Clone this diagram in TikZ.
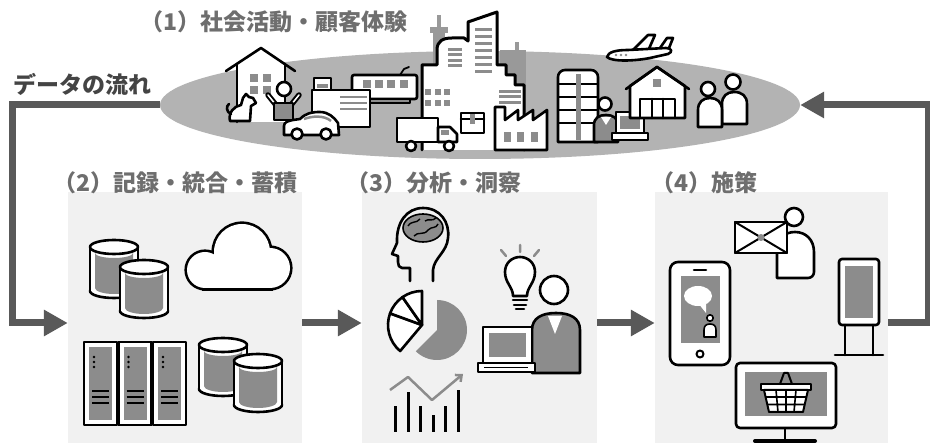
\documentclass[tikz,border=0pt]{standalone}
\usepackage{fontspec}
\newfontfamily\jp{Noto Sans CJK JP}
\usetikzlibrary{shapes.geometric,arrows.meta}
\definecolor{boxbg}{HTML}{F1F1F1}
\definecolor{icongray}{HTML}{8C8C8C}
\definecolor{towergray}{HTML}{999999}
\definecolor{scenegray}{HTML}{B3B3B3}
\definecolor{flowgray}{HTML}{595959}
\definecolor{labelgray}{HTML}{6E6E6E}
\definecolor{captiongray}{HTML}{444444}

% cylinder (database) icon, top-left corner at #1,#2
\newcommand{\dbcan}[2]{%
  \begin{scope}[shift={(#1,#2)}]
    \draw[wic] (24,52) ellipse [x radius=24, y radius=7];
    \fill[white] (0,8) rectangle (48,52);
    \draw[ic] (0,8) -- (0,52) (48,8) -- (48,52);
    \fill[icongray] (5,14) arc[start angle=180, end angle=0, x radius=19, y radius=5]
      -- (43,49) arc[start angle=0, end angle=180, x radius=19, y radius=6] -- cycle;
    \draw[wic] (24,8) ellipse [x radius=24, y radius=7];
  \end{scope}}

% the puffs of the cloud icon, used once for the outline and once for the fill
\newcommand{\cloudpuffs}[1]{%
  \path[#1] (205,270) circle (18);
  \path[#1] (242,252) circle (28);
  \path[#1] (270,268) circle (20);
  \path[#1] (205,260) rectangle (270,288);}

\begin{document}
\begin{tikzpicture}[x=1pt,y=-1pt,
  ic/.style={draw=black, line width=2.6pt, line join=round, line cap=round},
  wic/.style={ic, fill=white},
  gic/.style={ic, fill=icongray},
  stagebox/.style={fill=boxbg, draw=none, minimum width=234pt, minimum height=262pt, inner sep=0},
  lbl/.style={font=\jp\bfseries\fontsize{23}{23}\selectfont, text=labelgray, inner sep=0, anchor=west},
  flow/.style={draw=flowgray, line width=7pt, line join=miter},
  flowarrow/.style={flow, -{Triangle[length=24pt, width=25pt]}},
]
\useasboundingbox (0,0) rectangle (930,443);
\clip (0,0) rectangle (930,443);
\fill[white] (0,0) rectangle (930,443);

% ---------- stage boxes and titles ----------
\node[stagebox] (rec) at (185,323) {};
\node[stagebox, minimum width=235pt] (ana) at (479.5,323) {};
\node[stagebox, minimum width=233pt] (act) at (771.5,323) {};
\node[ellipse, fill=scenegray, minimum width=640pt, minimum height=108pt, inner sep=0] (scene) at (480,105) {};

\node[lbl] (t1) at (140,22) {（1）社会活動・顧客体験};
\node[lbl] (t2) at (53,183) {（2）記録・統合・蓄積};
\node[lbl] (t3) at (346,183) {（3）分析・洞察};
\node[lbl] (t4) at (651,183) {（4）施策};
\node[lbl, text=captiongray] (flowcap) at (13,84) {データの流れ};

% ---------- data flow connectors ----------
\coordinate (lc) at (12,105);
\coordinate (rc) at (928,323);
\draw[flowarrow] (scene.west) -- (lc) |- (rec.west);
\draw[flowarrow] (rec) -- (ana);
\draw[flowarrow] (ana) -- (act);
\draw[flowarrow] (act.east) -- (rc) |- (scene.east);

% ---------- (1) city scene ----------
% towers behind the skyline
\fill[towergray] (437,15) rectangle (441,28);
\fill[towergray] (430,27) rectangle (448,33);
\fill[towergray] (433,33) rectangle (445,70);
\fill[towergray] (500,50) rectangle (526,112);
\fill[towergray] (515,42) rectangle (519,51);
% skyline
\draw[wic, line width=3pt] (422,150) -- (422,65) -- (437,65) -- (437,50)
  .. controls (437,41) and (443,38) .. (452,38) -- (464,38) -- (468,41) -- (468,22)
  -- (497,12) -- (497,65) -- (506,65) -- (506,75) -- (515,75) -- (515,85) -- (524,85) -- (524,150);
\foreach \y in {48,53.5,59,64.5} \fill[icongray] (448,\y) rectangle (462,\y+3);
\foreach \y in {28,35,42,49,56,63,70} \fill[icongray] (475,\y) rectangle (492,\y+3.5);
\foreach \y in {90,95.5,101} \fill[icongray] (499,\y) rectangle (521,\y+3);
\foreach \x in {425,435,444} \foreach \y in {89,100} \fill[icongray] (\x,\y) rectangle (\x+5.5,\y+6);
% factory
\draw[wic] (495,150) -- (495,107) -- (505,107) -- (505,120) -- (518,110) -- (518,120) -- (533,110)
  -- (533,120) -- (547,110) -- (547,150) -- cycle;
\foreach \x in {504,517,531} \fill[icongray] (\x,132) rectangle (\x+7,142);
% train
\draw[wic, rounded corners=2] (352,75) rectangle (417,99);
\foreach \x in {363,375,387,400} \fill[icongray] (\x,80) rectangle (\x+8,88);
\draw[ic, line width=2pt, fill=icongray] (366,99) rectangle (410,103);
\draw[ic, line width=1.8pt] (400,75) -- (404,69) -- (409,67);
% shop block
\draw[wic] (312,90) rectangle (370,127);
\foreach \y in {97,103,109} \draw[icongray, line width=2.5pt] (340,\y) -- (367,\y);
\draw[wic] (314,78) rectangle (331,90);
\fill[icongray] (317,84) rectangle (328,88);
% truck
\draw[wic] (397,118) rectangle (438,142);
\draw[wic] (438,142) -- (438,127) -- (450,127) -- (457,134) -- (457,142) -- cycle;
\fill[icongray] (441,130) rectangle (449,135);
\draw[wic] (411,146) circle (5);
\draw[wic] (449,146) circle (5);
% parcel
\draw[wic] (461,113) rectangle (484,133);
\draw[ic] (461,119) -- (484,119);
\fill[icongray] (470,114) rectangle (475,124);
% car
\draw[wic] (284,135) -- (284,126) .. controls (284,122) and (288,121) .. (293,120) -- (300,119)
  .. controls (306,113) and (312,112) .. (320,112) .. controls (328,112) and (334,117) .. (338,123)
  -- (339,135) -- cycle;
\draw[icongray, line width=2.5pt] (304,119) .. controls (312,116) and (324,115) .. (331,121);
\draw[wic] (297,134) circle (5.5);
\draw[wic] (326,134) circle (5.5);
% house
\fill[white] (237,122) -- (237,64) -- (261,48) -- (285,64) -- (285,122) -- cycle;
\draw[ic] (226,71) -- (261,48) -- (295,71);
\draw[ic] (237,64) -- (237,122);
\draw[ic] (285,64) -- (285,104);
\foreach \x in {250,263} \foreach \y in {74,86} \fill[icongray] (\x,\y) rectangle (\x+8,\y+8);
% dog
\draw[wic] (230,121) .. controls (228,113) and (234,106) .. (241,105) -- (243,98) -- (246,94)
  -- (249,97) -- (253,98) -- (256,103) -- (251,106) -- (250,121) -- cycle;
\draw[ic] (231,114) .. controls (226,112) and (226,106) .. (229,104);
% cheering person
\draw[ic, line width=5.5pt] (276,105) -- (268,95);
\draw[ic, line width=5.5pt] (291,105) -- (299,95);
\draw[white, line width=1.5pt, line cap=round] (276,105) -- (268,95) (291,105) -- (299,95);
\draw[gic] (274,103) rectangle (293,120);
\draw[wic] (284,89) circle (7);

% right part of the scene: airplane
\draw[wic] (632,51) -- (648,35) -- (655,35) -- (648,51);
\draw[wic] (660,48) -- (667,38) -- (673,38) -- (669,48);
\draw[wic] (607,57) .. controls (608,52) and (616,50) .. (628,50) -- (666,48)
  .. controls (672,48) and (673,52) .. (668,54) -- (650,58) .. controls (635,61) and (612,62) .. cycle;
\foreach \x in {616,621,626} \fill[icongray] (\x,55) circle (1.3);
% office building
\draw[wic] (558,142) {[rounded corners=7] -- (558,70) -- (598,70)} -- (598,142) -- cycle;
\foreach \y in {84,97,110,123} \draw[ic, line width=2pt] (558,\y) -- (598,\y);
\fill[icongray] (576,74) rectangle (581,140);
% office worker with laptop
\draw[gic] (594,142) -- (594,125) .. controls (594,118) and (599,115) .. (606,115)
  .. controls (613,115) and (618,118) .. (618,125) -- (618,142) -- cycle;
\fill[white] (601,117) -- (606,125) -- (611,117) -- cycle;
\draw[wic] (605,104) circle (6.5);
\draw[wic] (616,112) rectangle (644,133);
\fill[icongray] (620,116) rectangle (640,129);
\draw[wic] (612,133) rectangle (648,140);
% warehouse
\draw[wic] (630,118) -- (630,86) -- (657,67) -- (685,86) -- (685,118) -- cycle;
\draw[ic] (626,89) -- (657,67) -- (689,89);
\fill[icongray] (653,79) rectangle (661,87);
\draw[ic] (640,118) -- (640,99) -- (675,99) -- (675,118);
\draw[ic] (652,99) -- (652,118) (663,99) -- (663,118);
% two people
\draw[wic] (722,124) -- (722,104) .. controls (722,96) and (727,92) .. (734,92)
  .. controls (742,92) and (747,96) .. (747,104) -- (747,124) -- cycle;
\draw[wic] (733,82) circle (7.5);
\draw[wic] (698,127) -- (698,110) .. controls (698,102) and (703,98) .. (710,98)
  .. controls (717,98) and (722,102) .. (722,110) -- (722,127) -- cycle;
\draw[wic] (708,89) circle (7);

% ---------- (2) storage ----------
\dbcan{90}{239}
\dbcan{120}{259}
\dbcan{199}{337}
\dbcan{234}{353}
% cloud
\cloudpuffs{draw=black, fill=black, line width=5.2pt}
\cloudpuffs{fill=white}
% server racks
\foreach \xo in {84,118.5,153} {
  \draw[wic] (\xo,342) rectangle (\xo+33,425);
  \fill[icongray] (\xo+5,347) rectangle (\xo+28,420);
  \foreach \y in {357,362,367} \fill (\xo+10,\y) circle (1.3);
  \foreach \y in {391,397,403} \draw[line width=2.6pt] (\xo+8,\y) -- (\xo+25,\y);
}

% ---------- (3) analysis ----------
% head with brain
\draw[ic] (410,281) -- (410,268) -- (402,268) .. controls (399,268) and (398,265) .. (398,262)
  -- (398,256) -- (392,254) -- (397,243) .. controls (396,222) and (407,208) .. (423,208)
  .. controls (440,208) and (450,222) .. (448,238) .. controls (447,252) and (434,258) .. (433,270)
  -- (433,281);
\draw[line width=1.6pt, fill=icongray] (423,228) ellipse [x radius=20, y radius=14];
\draw[line width=1.4pt] (408,226) .. controls (412,220) and (416,224) .. (420,219)
  (414,236) .. controls (418,231) and (424,236) .. (428,230) .. controls (432,226) and (436,229) .. (438,224)
  (425,221) .. controls (429,218) and (432,222) .. (436,218);
% pie chart
\fill[icongray] (437,330) -- ++(0,-30) arc[start angle=-90, end angle=135, radius=30] -- cycle;
\draw[wic] (422,325) -- ++(130:34) arc[start angle=130, end angle=200, radius=34] -- cycle;
\draw[wic] (422,325) -- ++(200:34) arc[start angle=200, end angle=235, radius=34] -- cycle;
\draw[wic] (422,325) -- ++(235:34) arc[start angle=235, end angle=270, radius=34] -- cycle;
% trend chart
\draw[icongray, line width=2.5pt, line join=round, -{Straight Barb[length=5pt, width=9pt]}]
  (390,390) -- (408,377) -- (432,400) -- (463,374);
\foreach \x/\t in {395/406, 408/392, 420/406, 433/415, 445/406, 458/390}
  \draw[line width=3pt] (\x,432) -- (\x,\t);
% light bulb
\draw[wic] (513,296) .. controls (513,287) and (505,283) .. (505,272) .. controls (505,263) and (512,257) .. (520,257)
  .. controls (528,257) and (535,263) .. (535,272) .. controls (535,283) and (527,287) .. (527,296) -- cycle;
\draw[ic] (513,300) -- (527,300) (514,305) -- (526,305) (516,309) -- (524,309);
\draw[icongray, line width=2.5pt, line cap=round] (501,250) -- (506,256) (520,245) -- (520,252) (539,250) -- (534,256);
% analyst with laptop
\draw[gic] (532,373) -- (532,330) .. controls (532,318) and (542,313) .. (556,313)
  .. controls (570,313) and (580,318) .. (580,330) -- (580,373) -- cycle;
\fill[white] (548,316) -- (555,334) -- (562,316) -- cycle;
\draw[wic] (554,290) circle (14);
\draw[wic] (483,327) rectangle (532,363);
\fill[icongray] (489,333) rectangle (526,357);
\draw[wic] (478,363) rectangle (535,372);
\draw[line width=1.5pt] (484,367.5) -- (528,367.5);

% ---------- (4) actions ----------
% person receiving mail
\draw[wic] (777,278) {[rounded corners=6] -- (777,250)} .. controls (777,239) and (785,232) .. (795,232)
  .. controls (806,232) and (814,240) .. (814,252) {[rounded corners=6] -- (814,278)} -- cycle;
\draw[wic] (794,217) circle (9);
\draw[wic] (735,222) rectangle (787,253);
\draw[ic, line width=2pt] (735,222) -- (787,253) (787,222) -- (735,253);
\fill[icongray] (761,237.5) circle (3.5);
% smartphone
\draw[wic, rounded corners=8] (670,262) rectangle (730,365);
\fill[icongray] (681,276) rectangle (720,343);
\draw[ic] (694,270) -- (706,270);
\draw[ic, line width=2pt] (700,354) circle (3.5);
\fill[white] (698,296) ellipse [x radius=14, y radius=10];
\fill[white] (698,303) -- (706,313) -- (706,302) -- cycle;
\draw[wic, line width=1.6pt] (710,318) circle (3.2);
\draw[wic, line width=1.6pt] (704,337) -- (704,330) .. controls (704,326) and (706,324) .. (710,324)
  .. controls (714,324) and (716,326) .. (716,330) -- (716,337) -- cycle;
% signage kiosk
\draw[wic, rounded corners=3] (839,259) rectangle (879,325);
\fill[icongray] (845,266) rectangle (873,318);
\draw[ic] (845,325) -- (845,355) (873,325) -- (873,355);
\draw[ic] (835,355) -- (883,355);
% monitor with shopping basket
\draw[ic] (785,428) -- (785,441);
\draw[ic, line width=4pt] (755,441) -- (815,441);
\draw[wic, rounded corners=4] (736,363) rectangle (836,428);
\fill[icongray] (745,372) rectangle (827,416);
\draw[ic, line width=2pt, fill=none] (780,384) -- (784,373) -- (788,373) -- (792,384);
\draw[wic, line width=2pt] (761,384) rectangle (811,390);
\draw[wic, line width=2pt] (764,390) -- (808,390) -- (803,412) -- (769,412) -- cycle;
\draw[line width=1.6pt] (776,390) -- (778,412) (786,390) -- (786,412) (796,390) -- (794,412)
  (766,397) -- (806,397) (767.5,404.5) -- (804.5,404.5);
\end{tikzpicture}
\end{document}
